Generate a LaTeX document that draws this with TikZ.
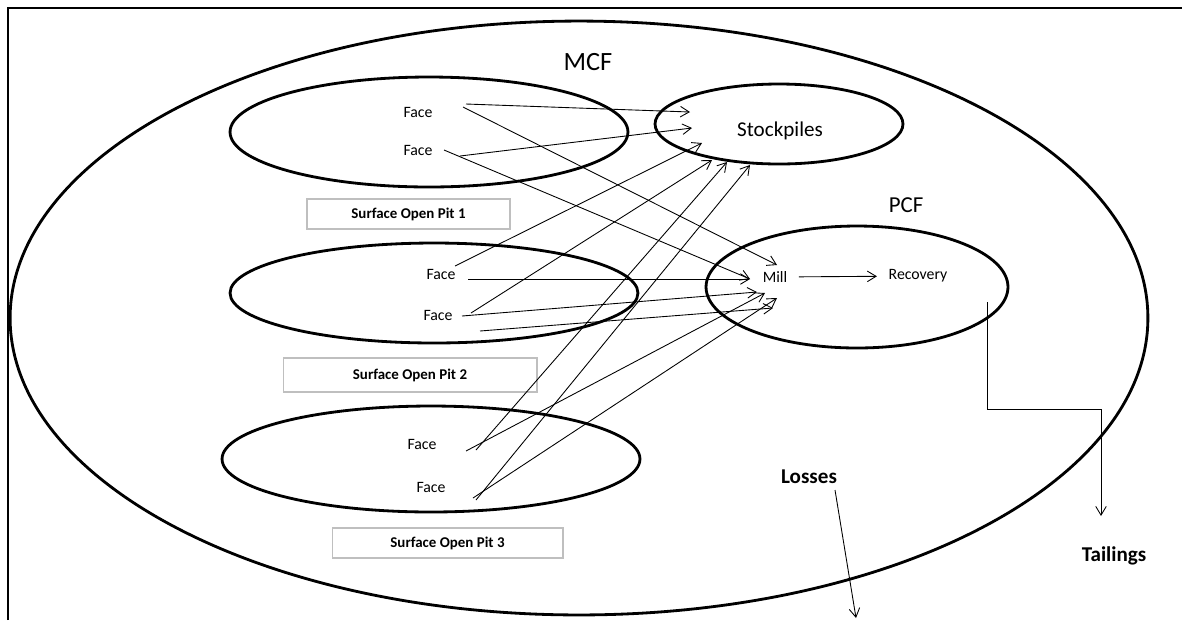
\documentclass[tikz,border=0pt]{standalone}
\usepackage{fontspec}
\setmainfont{Carlito}
\usetikzlibrary{shapes.geometric,arrows.meta}

\tikzset{
  ring/.style={draw, ellipse, line width=1.6pt, inner sep=0pt, outer sep=0pt},
  pitbox/.style={draw=black!25, line width=0.6pt, rectangle, inner sep=0pt,
                 font=\bfseries\fontsize{8.5}{10}\selectfont},
  facelbl/.style={font=\fontsize{9}{11}\selectfont, inner sep=1pt},
  biglbl/.style={font=\fontsize{#1}{#1}\selectfont, inner sep=1pt},
  boldlbl/.style={font=\bfseries\fontsize{12}{14}\selectfont, inner sep=1pt},
  flow/.style={line width=0.5pt, -{Straight Barb[length=5pt,width=6pt]}},
}

\begin{document}
\begin{tikzpicture}[x=0.02cm, y=-0.02cm]
  \useasboundingbox (0,0) rectangle (1182,620);

  % page frame (left and top edges)
  \draw[line width=1.1pt] (8,620) -- (8,8) -- (1182,8);

  % regions
  \node[ring, minimum width=22.76cm, minimum height=11.88cm] (mcf) at (579,318) {};
  \node[ring, minimum width=7.96cm, minimum height=2.2cm]   (pit1) at (429,132) {};
  \node[ring, minimum width=8.16cm, minimum height=2.0cm]   (pit2) at (434,293) {};
  \node[ring, minimum width=8.36cm, minimum height=2.12cm]  (pit3) at (431,459) {};
  \node[ring, minimum width=4.96cm, minimum height=1.6cm]   (stock) at (779,124) {};
  \node[ring, minimum width=6.04cm, minimum height=2.44cm]  (pcf) at (857,287) {};

  % pit captions
  \node[pitbox, minimum width=4.06cm, minimum height=0.6cm]  (cap1) at (408.5,214) {Surface Open Pit 1};
  \node[pitbox, minimum width=5.08cm, minimum height=0.68cm] (cap2) at (410,375) {Surface Open Pit 2};
  \node[pitbox, minimum width=4.62cm, minimum height=0.6cm]  (cap3) at (447.5,543) {Surface Open Pit 3};

  % labels
  \node[biglbl=15] (mcflbl) at (588,62) {MCF};
  \node[biglbl=13] (pcflbl) at (906,205) {PCF};
  \node[biglbl=12] (stocklbl) at (780,131) {Stockpiles};
  \node[facelbl] (mill) at (775,277) {Mill};
  \node[facelbl] (rec) at (918,276) {Recovery};
  \node[boldlbl] (losses) at (809,477) {Losses};
  \node[boldlbl] (tails) at (1114,556) {Tailings};

  % faces
  \node[facelbl] (f11) at (418,112) {Face};
  \node[facelbl] (f12) at (418,150) {Face};
  \node[facelbl] (f21) at (441,274) {Face};
  \node[facelbl] (f22) at (438,315) {Face};
  \node[facelbl] (f31) at (422,444) {Face};
  \node[facelbl] (f32) at (431,487) {Face};

  % connector start points
  \coordinate (s11a) at (466,104);  \coordinate (s11b) at (463,107);
  \coordinate (s12a) at (460,156);  \coordinate (s12b) at (444,150);
  \coordinate (s21a) at (455,266);  \coordinate (s21b) at (468,279);
  \coordinate (s22a) at (471,313);  \coordinate (s22b) at (462,316);
  \coordinate (s2x)  at (480,331);
  \coordinate (s31a) at (476,450);  \coordinate (s31b) at (466,451);
  \coordinate (s32a) at (476,500);  \coordinate (s32b) at (473,498);

  % arrival points at the stockpiles
  \coordinate (k1) at (690,112);  \coordinate (k2) at (692,128);
  \coordinate (k3) at (702,143);  \coordinate (k4) at (712,160);
  \coordinate (k5) at (727,162);  \coordinate (k6) at (750,165);

  % arrival points at the mill
  \coordinate (m1) at (777,265);  \coordinate (m2) at (750,279);
  \coordinate (m3) at (757,292);  \coordinate (m4) at (765,293);
  \coordinate (m5) at (777,298);  \coordinate (m6) at (773,308);

  % face -> stockpiles
  \draw[flow] (s11a) -- (k1);
  \draw[flow] (s12a) -- (k2);
  \draw[flow] (s21a) -- (k3);
  \draw[flow] (s22a) -- (k4);
  \draw[flow] (s31a) -- (k5);
  \draw[flow] (s32a) -- (k6);

  % face -> mill
  \draw[flow] (s11b) -- (m1);
  \draw[flow] (s12b) -- (m2);
  \draw[flow] (s21b) -- (m2);
  \draw[flow] (s22b) -- (m3);
  \draw[flow] (s31b) -- (m4);
  \draw[flow] (s32b) -- (m5);
  \draw[flow] (s2x)  -- (m6);

  % mill -> recovery
  \draw[flow, shorten <=5.5pt, shorten >=5.5pt] (mill) -- (rec);

  % tailings and losses
  \coordinate (tsrc) at (987,302);
  \coordinate (tend) at (1101,516);
  \draw[flow] (tsrc) -- (987,409) -- (1101,409) -- (tend);
  \coordinate (lsrc) at (835,490);
  \coordinate (lend) at (856,618);
  \draw[flow] (lsrc) -- (lend);
\end{tikzpicture}
\end{document}
